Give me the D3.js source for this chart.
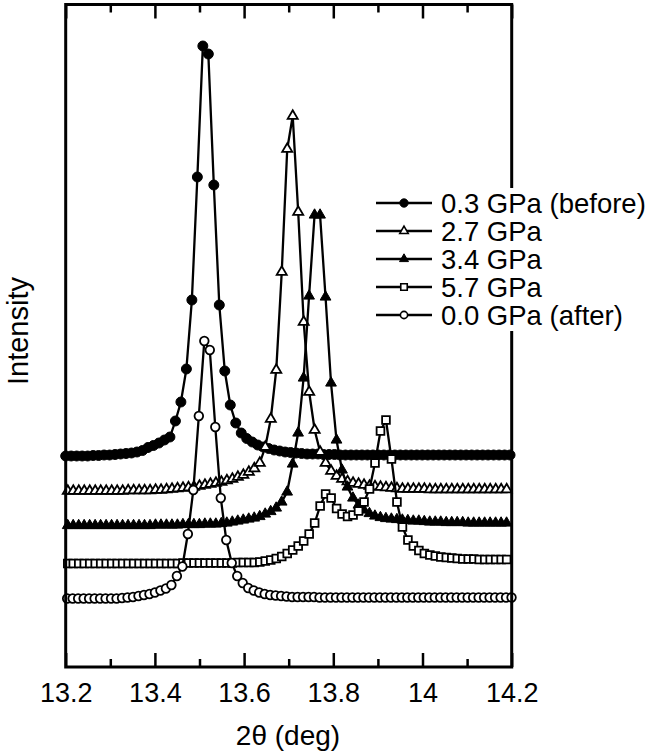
<!DOCTYPE html>
<html>
<head>
<meta charset="utf-8">
<script src="https://cdn.jsdelivr.net/npm/d3@7"></script>
<style>
  body { margin: 0; background: #fff; }
  svg { display: block; font-family: "Liberation Sans", Arial, sans-serif; }
</style>
</head>
<body>
<svg id="chart" width="653" height="753"></svg>
<script>
// scan grid: every pattern was taken with the same 2theta step, slightly different start
const scanStep = 0.0123;

const labels = ["0.3 GPa (before)", "2.7 GPa", "3.4 GPa", "5.7 GPa", "0.0 GPa (after)"];
const starts = [13.2, 13.2047, 13.2045, 13.2047, 13.2033];

// intensities (arb. units, offset patterns)
const p03 = [
  211, 211, 211, 211, 211, 211.5, 211.5, 212, 212, 212.5,
  213, 213.5, 214, 215, 216.5, 219.5, 221.5, 224, 227, 230,
  246, 265, 298, 367, 490, 621, 613, 482, 362, 296,
  262, 244, 234, 228.5, 225, 222, 220, 218.5, 217, 216,
  215, 214.5, 214, 213.5, 213, 213, 213, 212.5, 212.5, 212.5,
  212, 212, 212, 212, 212, 212, 212, 212, 212, 212,
  212, 212, 212, 212, 212, 212, 212, 212, 212, 212,
  212, 212, 212, 212, 212, 212, 212, 212, 212, 212,
  212, 212
];
const p27 = [
  176, 176, 176, 176, 176, 176, 176, 176, 176, 176,
  176, 176.5, 176.5, 176.5, 176.5, 176.5, 177, 177, 177.5, 178,
  178.5, 179, 179.5, 180, 181, 182, 183, 184, 185, 186.5,
  188, 190, 192, 195, 198.5, 204, 220, 248, 297, 395,
  518, 551, 455, 345, 275, 237, 215, 204, 196, 191,
  188, 185.5, 184, 183, 182, 181, 180.5, 180, 179.5, 179,
  178.5, 178, 178, 178, 178, 178, 177.5, 177.5, 177.5, 177.5,
  177.5, 177.5, 177.5, 177.5, 177.5, 177.5, 177.5, 177.5, 177.5, 177.5,
  177.5
];
const p34 = [
  141.5, 141.5, 141.5, 141.5, 141.5, 141.5, 141.5, 141.5, 141.5, 141.5,
  141.5, 141.5, 141.5, 141.5, 141.5, 141.5, 142, 142, 142, 142,
  142, 142.5, 142.5, 142.5, 142.5, 143, 143, 143, 143.5, 144,
  145, 146, 147, 148, 149, 150.5, 153, 155.5, 159, 165,
  175, 203, 234, 289, 371, 452, 452, 370, 284, 227,
  197, 180, 169, 162, 157, 153.5, 151, 149.5, 148.5, 148,
  147.5, 147, 146.5, 146, 146, 145.5, 145, 145, 145, 144.5,
  144.5, 144.5, 144.5, 144, 144, 144, 144, 144, 144, 144,
  144
];
const p57 = [
  103.5, 103.5, 103.5, 103.5, 103.5, 103.5, 103.5, 103.5, 103.5, 103.5,
  103.5, 103.5, 103.5, 103.5, 103.5, 103.5, 103.5, 103.5, 103.5, 103.5,
  103.5, 104, 104, 104, 104, 104, 104, 104, 104, 104,
  104, 104.5, 104.5, 104.5, 104.5, 105, 106, 107, 108.5, 110.5,
  113.5, 117, 121, 126, 133, 144, 161, 173, 169, 158.5,
  153, 150.5, 152, 156, 165, 178, 204, 236, 247, 208,
  165, 140, 127, 121, 116.5, 113.5, 112, 111, 110, 109.5,
  109, 108.5, 108, 108, 108, 107.5, 107.5, 107.5, 107.5, 107.5,
  107.5
];
const p00 = [
  68.5, 68.5, 68.5, 68.5, 68.5, 68.5, 68.5, 68.5, 68.5, 68.5,
  69, 69.5, 70, 71, 72, 73, 74.5, 76.5, 78.5, 82,
  91, 100.5, 133, 177, 251, 326, 317, 240, 169, 127,
  104, 91, 84, 79, 76.5, 74.5, 73, 72, 71.5, 71,
  70.5, 70, 70, 70, 70, 70, 69.5, 69.5, 69.5, 69.5,
  69.5, 69.5, 69.5, 69.5, 69.5, 69.5, 69.5, 69.5, 69.5, 69.5,
  69.5, 69.5, 69.5, 69.5, 69.5, 69.5, 69.5, 69.5, 69.5, 69.5,
  69.5, 69.5, 69.5, 69.5, 69.5, 69.5, 69.5, 69.5, 69.5, 69.5,
  69.5, 69.5
];

const majorTicks = [13.2, 13.4, 13.6, 13.8, 14.0, 14.2];
const xTickLabels = ["13.2", "13.4", "13.6", "13.8", "14", "14.2"];
const minorTicks = [13.3, 13.5, 13.7, 13.9, 14.1];

const svg = d3.select("#chart");
const width = 653;
const height = 753;
const margin = { top: 4.5, right: 141.3, bottom: 86, left: 65.7 };

const x = d3.scaleLinear()
  .domain([13.2, 14.2])
  .range([margin.left, width - margin.right]);
const y = d3.scaleLinear()
  .domain([0, 662.5])
  .range([height - margin.bottom, margin.top]);

const series = [
  { label: labels[0], start: starts[0], values: p03, symbol: d3.symbolCircle, size: 78, open: false },
  { label: labels[1], start: starts[1], values: p27, symbol: d3.symbolTriangle, size: 44, open: true },
  { label: labels[2], start: starts[2], values: p34, symbol: d3.symbolTriangle, size: 50, open: false },
  { label: labels[3], start: starts[3], values: p57, symbol: d3.symbolSquare, size: 60, open: true },
  { label: labels[4], start: starts[4], values: p00, symbol: d3.symbolCircle, size: 58, open: true }
];

series.forEach((s) => {
  const line = d3.line()
    .x((d, i) => x(s.start + i * scanStep))
    .y((d) => y(d));

  const g = svg.append("g");
  g.append("path")
    .datum(s.values)
    .attr("fill", "none")
    .attr("stroke", "#000")
    .attr("stroke-width", 2.3)
    .attr("d", line);

  g.selectAll("path.pt")
    .data(s.values)
    .join("path")
    .attr("class", "pt")
    .attr("transform", (d, i) => `translate(${x(s.start + i * scanStep)},${y(d)})`)
    .attr("d", d3.symbol().type(s.symbol).size(s.size))
    .attr("fill", s.open ? "#fff" : "#000")
    .attr("stroke", "#000")
    .attr("stroke-width", s.open ? 1.8 : 1);
});

// frame
svg.append("rect")
  .attr("x", margin.left)
  .attr("y", margin.top)
  .attr("width", width - margin.left - margin.right)
  .attr("height", height - margin.top - margin.bottom)
  .attr("fill", "none")
  .attr("stroke", "#000")
  .attr("stroke-width", 3);

// bottom axis, ticks pointing in
const xAxis = svg.append("g")
  .attr("transform", `translate(0, ${height - margin.bottom})`)
  .call(d3.axisBottom(x).tickValues(majorTicks).tickFormat((d, i) => xTickLabels[i])
    .tickSize(-14).tickPadding(16));
svg.append("g")
  .attr("transform", `translate(0, ${height - margin.bottom})`)
  .call(d3.axisBottom(x).tickValues(minorTicks).tickFormat("").tickSize(-8));

svg.append("g")
  .attr("transform", `translate(0, ${margin.top})`)
  .call(d3.axisTop(x).tickValues(majorTicks).tickFormat("").tickSize(-14));
svg.append("g")
  .attr("transform", `translate(0, ${margin.top})`)
  .call(d3.axisTop(x).tickValues(minorTicks).tickFormat("").tickSize(-8));

svg.selectAll(".domain").remove();
svg.selectAll(".tick line").attr("stroke-width", 2.5);
xAxis.selectAll("text")
  .attr("font-size", 27)
  .attr("font-family", "Liberation Sans, Arial, sans-serif")
  .attr("fill", "#000");

svg.append("text")
  .attr("x", 288)
  .attr("y", 745)
  .attr("text-anchor", "middle")
  .attr("font-size", 28)
  .text("2θ (deg)");

svg.append("text")
  .attr("transform", "translate(28, 331) rotate(-90)")
  .attr("text-anchor", "middle")
  .attr("font-size", 29)
  .text("Intensity");

// legend (white box sits over the right frame)
const legend = svg.append("g");
legend.append("rect")
  .attr("x", 370).attr("y", 188)
  .attr("width", 283).attr("height", 143)
  .attr("fill", "#fff");

series.forEach((s, i) => {
  const ly = 203 + i * 28;
  legend.append("line")
    .attr("x1", 376).attr("x2", 432)
    .attr("y1", ly).attr("y2", ly)
    .attr("stroke", "#000").attr("stroke-width", 2.3);
  legend.append("path")
    .attr("transform", `translate(404,${ly})`)
    .attr("d", d3.symbol().type(s.symbol).size(s.size * 0.7))
    .attr("fill", s.open ? "#fff" : "#000")
    .attr("stroke", "#000")
    .attr("stroke-width", s.open ? 1.6 : 1);
  legend.append("text")
    .attr("x", 441)
    .attr("y", ly + 10)
    .attr("font-size", 27.5)
    .text(s.label);
});
</script>
</body>
</html>
